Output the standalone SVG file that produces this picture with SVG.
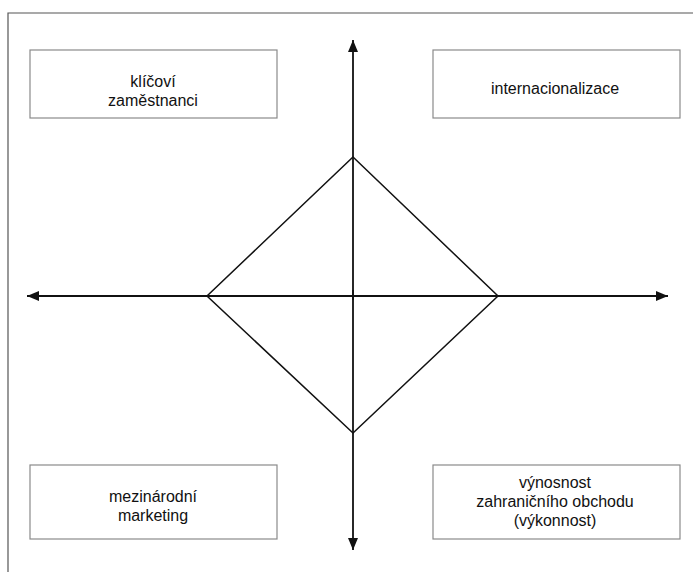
<svg xmlns="http://www.w3.org/2000/svg" width="693" height="572" viewBox="0 0 693 572">
<style>
.box{fill:#fff;stroke:#8a8a8a;stroke-width:1.2}
.t{font-family:"Liberation Sans",Arial,sans-serif;font-size:16px;fill:#111;text-anchor:middle}
.ln{stroke:#111;stroke-width:1.8;fill:none}
</style>
<defs>
<marker id="ah" viewBox="0 0 12 10" refX="12" refY="5" markerWidth="12" markerHeight="10" orient="auto" markerUnits="userSpaceOnUse">
<path d="M0,0 L12,5 L0,10 z" fill="#111"/>
</marker>
</defs>
<rect width="693" height="572" fill="#fff"/>
<g id="frame" fill="none" stroke="#555" stroke-width="1.2">
<path d="M8,572 V13 H693"/>
</g>
<g id="connectors">
<line class="ln" x1="353" y1="300" x2="353" y2="40" marker-end="url(#ah)"/>
<line class="ln" x1="353" y1="290" x2="353" y2="550" marker-end="url(#ah)"/>
<line class="ln" x1="360" y1="296" x2="27" y2="296" marker-end="url(#ah)"/>
<line class="ln" x1="350" y1="296" x2="668" y2="296" marker-end="url(#ah)"/>
<polygon points="353,157 498,296 353,433 207,296" fill="none" stroke="#111" stroke-width="1.5"/>
</g>
<g id="n1"><rect class="box" x="30" y="50" width="247" height="68"/>
<text class="t" x="153" y="87">klíčoví</text><text class="t" x="153" y="106">zaměstnanci</text></g>
<g id="n2"><rect class="box" x="433" y="50" width="247" height="68"/>
<text class="t" x="555" y="94">internacionalizace</text></g>
<g id="n3"><rect class="box" x="30" y="465" width="247" height="74"/>
<text class="t" x="153" y="502">mezinárodní</text><text class="t" x="153" y="521">marketing</text></g>
<g id="n4"><rect class="box" x="433" y="465" width="247" height="74"/>
<text class="t" x="555" y="488">výnosnost</text><text class="t" x="555" y="507">zahraničního obchodu</text><text class="t" x="555" y="526">(výkonnost)</text></g>
</svg>
